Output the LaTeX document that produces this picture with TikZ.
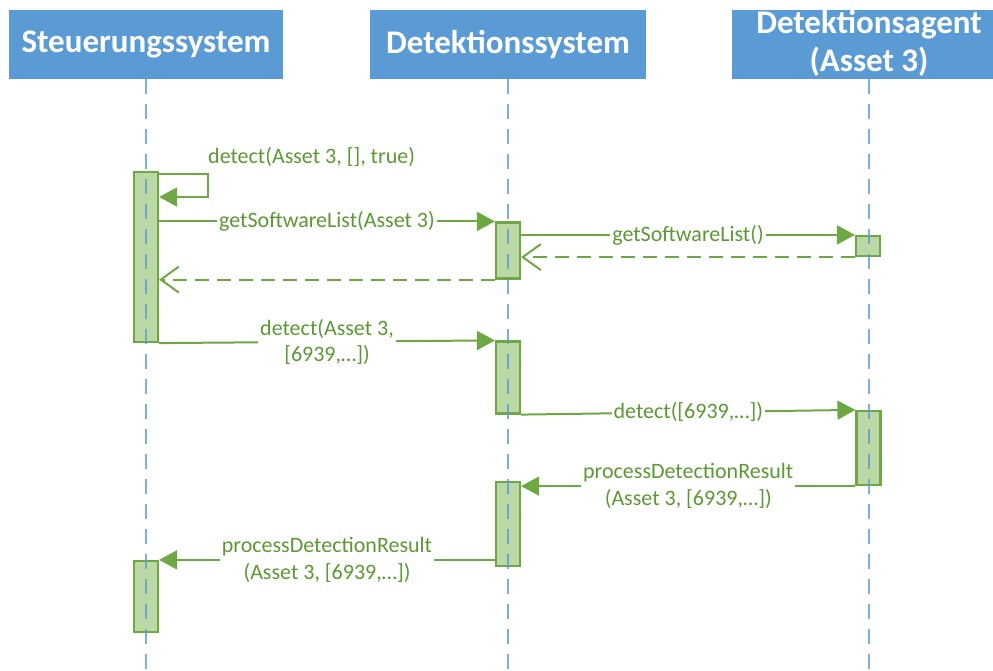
\documentclass[tikz,border=0pt]{standalone}
\usepackage{fontspec}
\setmainfont{Carlito}
\usetikzlibrary{arrows.meta}
\definecolor{hdrblue}{HTML}{5B9BD5}
\definecolor{actgreen}{HTML}{6DA844}
\definecolor{actfill}{HTML}{BCD8A4}
\definecolor{msgtext}{HTML}{5C9834}

\begin{document}
\begin{tikzpicture}[x=1pt,y=-1pt,
  header/.style={fill=hdrblue, draw=none, inner sep=0pt},
  headtext/.style={text=white, font=\fontsize{33}{38}\selectfont\bfseries, align=center, inner sep=0pt},
  lifeline/.style={draw=hdrblue, line width=2pt, dash pattern=on 15pt off 10pt, opacity=.8},
  act/.style={draw=actgreen, fill=actfill, line width=2.2pt, minimum width=24pt, inner sep=0pt},
  msg/.style={draw=actgreen, line width=2pt, -{Triangle[length=18pt,width=19pt]}},
  ret/.style={draw=actgreen, line width=2pt, dash pattern=on 14pt off 8pt, -{Straight Barb[length=18pt,width=26pt]}},
  lbl/.style={text=msgtext, font=\fontsize{22}{26.5}\selectfont, fill=white, inner sep=2pt, align=center}
]
\useasboundingbox (0,0) rectangle (993,671);

% participant heads
\node[header, minimum width=274pt, minimum height=69pt] (h1) at (146,44.5) {};
\node[headtext] (h1t) at (h1.center) {Steuerungssystem};
\node[header, minimum width=276pt, minimum height=69pt] (h2) at (508,44.5) {};
\node[headtext] (h2t) at (h2.center) {Detektionssystem};
\node[header, minimum width=261pt, minimum height=69pt] (h3) at (862.5,44.5) {};
\node[headtext] (h3t) at (869,43) {Detektionsagent\\(Asset 3)};

% activation bars
\node[act, minimum height=170pt] (a1)  at (146,257)   {};
\node[act, minimum height=56pt]  (a2a) at (508,250.5) {};
\node[act, minimum height=20pt]  (a3a) at (868,246)   {};
\node[act, minimum height=72pt]  (a2b) at (508,377.5) {};
\node[act, minimum height=74pt]  (a3b) at (868.5,448) {};
\node[act, minimum height=84pt]  (a2c) at (508,524)   {};
\node[act, minimum height=71pt]  (a1b) at (146,596.5) {};

% lifelines
\coordinate (t3) at (869,79);
\coordinate (e1) at (146,671);
\coordinate (e2) at (508,671);
\coordinate (e3) at (869,671);
\draw[lifeline] (h1.south) -- (e1);
\draw[lifeline] (h2.south) -- (e2);
\draw[lifeline] (t3) -- (e3);

% self call
\draw[msg] (a1.east |- 0,174) -- (208,174) -- (208,197) -- (a1.east |- 0,197);
\node[lbl, fill=none, anchor=west] (l0) at (206,157) {detect(Asset 3, [], true)};

% messages
\draw[msg] (a1.east |- a2a.north west) -- node[lbl] (l1) {getSoftwareList(Asset 3)} (a2a.north west);
\draw[msg] (a2a.east |- a3a.north west) -- node[lbl] (l2) {getSoftwareList()} (a3a.north west);
\draw[ret] (a3a.south west) -- (a2a.east |- a3a.south west);
\draw[ret] (a2a.south west) -- (a1.east |- a2a.south west);
\draw[msg] (a1.south east) -- node[lbl] (l3) {detect(Asset 3,\\{[}6939,…])} (a2b.north west);
\draw[msg] (a2b.south east) -- node[lbl] (l4) {detect([6939,…])} (a3b.north west);
\draw[msg] (a3b.south west) -- node[lbl] (l5) {processDetectionResult\\(Asset 3, [6939,…])} (a2c.east |- a3b.south west);
\draw[msg] (a2c.west |- a1b.north east) -- node[lbl] (l6) {processDetectionResult\\(Asset 3, [6939,…])} (a1b.north east);
\end{tikzpicture}
\end{document}
